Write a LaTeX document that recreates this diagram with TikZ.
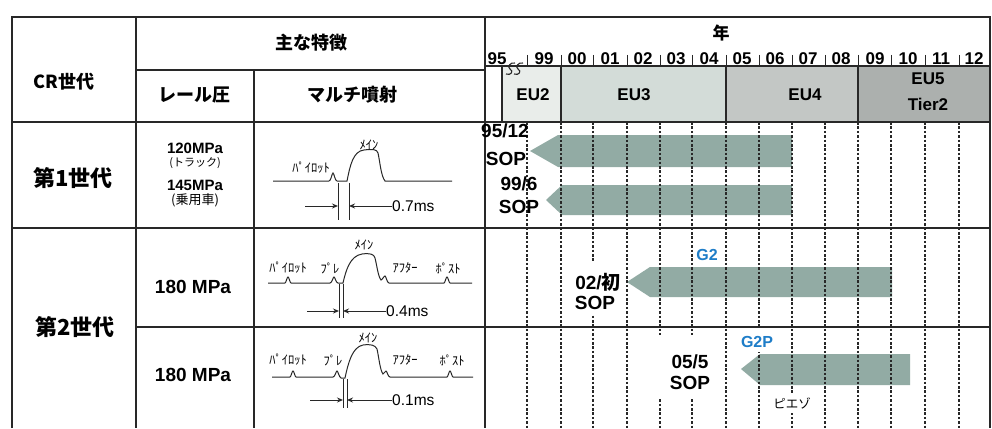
\documentclass[tikz,border=0pt]{standalone}
\usepackage{fontspec}
\setmainfont{Liberation Sans}
\newfontfamily\jp{Noto Sans CJK JP}
\usetikzlibrary{arrows.meta}
\definecolor{lineC}{RGB}{40,40,40}
\definecolor{eutwo}{RGB}{233,237,234}
\definecolor{euthree}{RGB}{211,220,216}
\definecolor{eufour}{RGB}{195,199,197}
\definecolor{eufive}{RGB}{172,176,174}
\definecolor{arrC}{RGB}{146,171,164}
\definecolor{blueC}{RGB}{30,125,200}
\tikzset{
  grid/.style={line width=1.4pt, draw=lineC},
  dashline/.style={line width=1.3pt, draw=lineC, dash pattern=on 2.6pt off 1.8pt},
  wave/.style={line width=1pt, draw=lineC},
  dim/.style={line width=1pt, draw=lineC, -{Stealth[length=6pt,width=5pt]}},
  hdr/.style={inner sep=0pt, font=\jp\bfseries\fontsize{18}{20}\selectfont},
  gen/.style={inner sep=0pt, font=\jp\bfseries\fontsize{22}{24}\selectfont},
  mpa/.style={inner sep=0pt, font=\bfseries\fontsize{15}{16}\selectfont},
  big/.style={inner sep=0pt, font=\bfseries\fontsize{19}{20}\selectfont},
  yrlbl/.style={inner sep=0pt, font=\bfseries\fontsize{17}{18}\selectfont},
  eulbl/.style={inner sep=0pt, font=\bfseries\fontsize{17}{18}\selectfont},
  small/.style={inner sep=0pt, font=\jp\fontsize{12.5}{13}\selectfont},
  ms/.style={inner sep=0pt, anchor=west, font=\fontsize{15.5}{16}\selectfont},
  blue/.style={inner sep=0pt, text=blueC, font=\bfseries\fontsize{16}{17}\selectfont},
}
\begin{document}
\begin{tikzpicture}[x=1pt,y=-1pt]
\useasboundingbox (0,0) rectangle (992,428);
\fill[white] (0,0) rectangle (992,428);
% EU bands
\fill[eutwo] (502,66) rectangle (561,122);
\fill[euthree] (561,66) rectangle (726,122);
\fill[eufour] (726,66) rectangle (858,122);
\fill[eufive] (858,66) rectangle (990,122);
% generation arrows
\fill[arrC] (530,151) -- (558,135) -- (792,135) -- (792,167) -- (558,167) -- cycle;
\fill[arrC] (546,200) -- (562,185) -- (792,185) -- (792,215) -- (562,215) -- cycle;
\fill[arrC] (627,282) -- (650,267) -- (892,267) -- (892,297) -- (650,297) -- cycle;
\fill[arrC] (741,369) -- (760,354) -- (910,354) -- (910,385) -- (760,385) -- cycle;
% dashed year lines
\foreach \xx in {527,561,593,627,660,692,726,759,792,825,858,891,925,959}
  \draw[dashline] (\xx,122) -- (\xx,428);
% white patches behind labels
\fill[white] (570,262) rectangle (625,315);
\fill[white] (656,335) rectangle (722,398);
\fill[white] (740,327) rectangle (775,352);
\fill[white] (776,394) rectangle (809,413);
% table grid
\draw[grid] (12,428) -- (12,17) -- (990,17) -- (990,428);
\draw[grid] (136,17) -- (136,428);
\draw[grid] (485,17) -- (485,428);
\draw[grid] (254,70) -- (254,428);
\draw[grid] (136,70) -- (485,70);
\draw[grid] (12,122) -- (990,122);
\draw[grid] (12,228) -- (990,228);
\draw[grid] (136,327) -- (990,327);
\draw[grid] (485,66) -- (990,66);
\foreach \xx in {502,561,726,858}
  \draw[grid] (\xx,66) -- (\xx,122);
\foreach \xx in {527,561,593,627,660,692,726,759,792,825,858,891,925,959}
  \draw[grid, line width=1pt] (\xx,55) -- (\xx,66);
% break mark
\draw[line width=1.1pt, draw=lineC] (506,74) .. controls (511,76) and (514,71) .. (510,69) .. controls (507,67) and (510,62) .. (515,63);
\draw[line width=1.1pt, draw=lineC] (514,74) .. controls (519,76) and (522,71) .. (518,69) .. controls (515,67) and (518,62) .. (523,63);
% header texts
\node[hdr] (cr) at (64,82) {CR世代};
\node[hdr] (tokucho) at (311,43) {主な特徴};
\node[hdr] (rail) at (194,95) {レール圧};
\node[hdr] (multi) at (352,95) {マルチ噴射};
\node[inner sep=0pt, font=\jp\bfseries\fontsize{17}{18}\selectfont] (nen) at (721,33) {年};
\foreach \yr/\xx in {95/497,99/544,00/577,01/610,02/643,03/676,04/709,05/742,06/775,07/808,08/841,09/875,10/908,11/941,12/974}
  \node[yrlbl] (y\yr) at (\xx,59) {\yr};
\node[eulbl] (eu2) at (533,95) {EU2};
\node[eulbl] (eu3) at (634,95) {EU3};
\node[eulbl] (eu4) at (805,95) {EU4};
\node[eulbl] (eu5) at (928,79) {EU5};
\node[eulbl] (tier) at (928,104) {Tier2};
% generation column
\node[gen] (g1) at (73,178) {第1世代};
\node[gen] (g2) at (75,327) {第2世代};
% rail pressure
\node[mpa] (p120) at (195,148) {120MPa};
\node[inner sep=0pt, font=\jp\fontsize{11}{12}\selectfont] (truck) at (195,163) {(トラック)};
\node[mpa] (p145) at (195,185) {145MPa};
\node[inner sep=0pt, font=\jp\fontsize{13}{14}\selectfont] (car) at (195,200) {(乗用車)};
\node[big] (p180a) at (193,287) {180 MPa};
\node[big] (p180b) at (193,375) {180 MPa};
% waveform row 1
\draw[wave] (273,181) -- (329,181) .. controls (331,181) and (332,173) .. (333,173) .. controls (334,173) and (335,181) .. (337,181) -- (347,181)
  .. controls (350,166) and (353,151) .. (364,150) .. controls (372,149) and (377,149) .. (378,153) .. controls (380,162) and (381,176) .. (385,181) -- (452,181);
\node[small] (w1p) at (311,168) {ﾊﾟｲﾛｯﾄ};
\node[small] (w1m) at (369,145) {ﾒｲﾝ};
\coordinate (a1t) at (338,183); \coordinate (a1b) at (338,220);
\coordinate (b1t) at (349,183); \coordinate (b1b) at (349,220);
\draw[wave] (a1t) -- (a1b);
\draw[wave] (b1t) -- (b1b);
\coordinate (a1s) at (305,206); \coordinate (a1e) at (338,206);
\coordinate (b1e) at (349,206);
\node[ms] (t07) at (392,206) {0.7ms};
\draw[dim] (a1s) -- (a1e);
\draw[dim] (t07.west) -- (b1e);
% waveform row 2a
\draw[wave] (268,283) -- (285,283) .. controls (286,283) and (287,277) .. (288,277) .. controls (289,277) and (290,283) .. (291,283) -- (330,283)
  .. controls (332,283) and (333,277) .. (334,277) .. controls (335,277) and (336,283) .. (338,283) -- (343,283)
  .. controls (346,270) and (350,256) .. (362,254) .. controls (370,253) and (374,254) .. (375,258)
  .. controls (377,266) and (378,276) .. (381,280) .. controls (382,280) and (384,276) .. (385,276) .. controls (386,276) and (387,283) .. (389,283) -- (444,283)
  .. controls (445,283) and (446,277) .. (447,277) .. controls (448,277) and (449,283) .. (450,283) -- (472,283);
\node[small] (w2p) at (288,268) {ﾊﾟｲﾛｯﾄ};
\node[small] (w2r) at (330,268) {ﾌﾟﾚ};
\node[small] (w2m) at (364,245) {ﾒｲﾝ};
\node[small] (w2a) at (405,268) {ｱﾌﾀｰ};
\node[small] (w2s) at (448,268) {ﾎﾟｽﾄ};
\coordinate (a2t) at (339,284); \coordinate (a2b) at (339,318);
\coordinate (b2t) at (343,284); \coordinate (b2b) at (343,318);
\draw[wave] (a2t) -- (a2b);
\draw[wave] (b2t) -- (b2b);
\coordinate (a2s) at (307,311); \coordinate (a2e) at (339,311);
\coordinate (b2e) at (343,311);
\node[ms] (t04) at (386,311) {0.4ms};
\draw[dim] (a2s) -- (a2e);
\draw[dim] (t04.west) -- (b2e);
% waveform row 2b
\draw[wave] (272,377) -- (290,377) .. controls (291,377) and (292,371) .. (293,371) .. controls (294,371) and (295,377) .. (296,377) -- (333,377)
  .. controls (335,377) and (336,371) .. (337,371) .. controls (338,371) and (339,377) .. (341,378) -- (345,378)
  .. controls (348,364) and (352,347) .. (363,345) .. controls (371,344) and (375,345) .. (377,349)
  .. controls (379,358) and (380,370) .. (383,374) .. controls (384,374) and (385,371) .. (386,371) .. controls (387,371) and (388,377) .. (390,377) -- (447,377)
  .. controls (448,377) and (449,371) .. (450,371) .. controls (451,371) and (452,377) .. (453,377) -- (473,377);
\node[small] (w3p) at (288,360) {ﾊﾟｲﾛｯﾄ};
\node[small] (w3r) at (333,360) {ﾌﾟﾚ};
\node[small] (w3m) at (368,338) {ﾒｲﾝ};
\node[small] (w3a) at (405,360) {ｱﾌﾀｰ};
\node[small] (w3s) at (452,360) {ﾎﾟｽﾄ};
\coordinate (a3t) at (343,379); \coordinate (a3b) at (343,408);
\coordinate (b3t) at (347,379); \coordinate (b3b) at (347,408);
\draw[wave] (a3t) -- (a3b);
\draw[wave] (b3t) -- (b3b);
\coordinate (a3s) at (310,400); \coordinate (a3e) at (343,400);
\coordinate (b3e) at (347,400);
\node[ms] (t01) at (392,400) {0.1ms};
\draw[dim] (a3s) -- (a3e);
\draw[dim] (t01.west) -- (b3e);
% SOP labels
\node[big] (s1a) at (505,131) {95/12};
\node[big] (s1b) at (506,159) {SOP};
\node[big] (s2a) at (519,184) {99/6};
\node[big] (s2b) at (519,207) {SOP};
\node[big] (s3a) at (598,282) {02/{\jp 初}};
\node[big] (s3b) at (595,303) {SOP};
\node[big] (s4a) at (690,362) {05/5};
\node[big] (s4b) at (690,383) {SOP};
\node[blue] (lg2) at (707,255) {G2};
\node[blue] (lg2p) at (757,342) {G2P};
\node[inner sep=0pt, font=\jp\fontsize{12.5}{13}\selectfont] (piezo) at (792,403) {ピエゾ};
\end{tikzpicture}
\end{document}
